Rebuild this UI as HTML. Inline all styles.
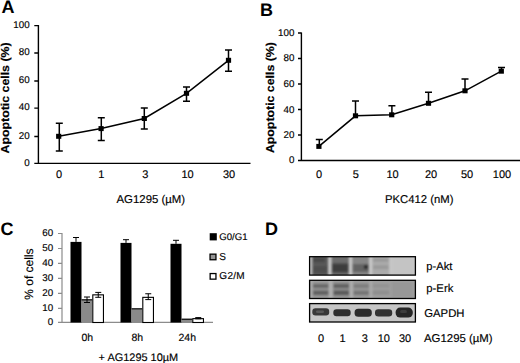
<!DOCTYPE html>
<html><head><meta charset="utf-8">
<style>
html,body{margin:0;padding:0;background:#fff;}
body{width:520px;height:363px;overflow:hidden;}
svg{display:block;}
text{text-rendering:geometricPrecision;font-family:"Liberation Sans",sans-serif;fill:#000;stroke:#000;stroke-width:0.15px;}
.pl{font-weight:bold;font-size:18px;fill:#000;stroke:none;}
.yt{font-size:9.8px;text-anchor:end;}
.xt{font-size:11px;text-anchor:middle;}
.ttl{font-weight:bold;font-size:11.5px;}
</style></head>
<body>
<svg width="520" height="363" viewBox="0 0 520 363">
<!-- ============ PANEL A ============ -->
<text class="pl" x="1.5" y="12.5">A</text>
<g stroke="#000" stroke-width="1.4" fill="none">
  <path d="M38.4 25V163.4M34.3 163.4H250.5"/>
  <path d="M34.3 25.6H38.4M34.3 53H38.4M34.3 81H38.4M34.3 108.1H38.4M34.3 136.5H38.4"/>
</g>
<g class="yt">
  <text class="yt" x="29.6" y="27.8">100</text>
  <text class="yt" x="29.6" y="55.2">80</text>
  <text class="yt" x="29.6" y="83.1">60</text>
  <text class="yt" x="29.6" y="110.4">40</text>
  <text class="yt" x="29.6" y="138.6">20</text>
  <text class="yt" x="29.6" y="166">0</text>
</g>
<text class="ttl" transform="translate(9.4,153.4) rotate(-90) scale(1.072,1)">Apoptotic cells (%)</text>
<g stroke="#000" stroke-width="1.5" fill="none">
  <path d="M58.7 136.3L101.1 128.6L144.3 118.5L186.5 93.3L228.5 60.3"/>
  <path d="M59.3 123.15V151.05M55.8 123.15H62.8M55.8 151.05H62.8"/>
  <path d="M101.3 117.8V140.4M97.8 117.8H104.8M97.8 140.4H104.8"/>
  <path d="M144.3 108V129M140.8 108H147.8M140.8 129H147.8"/>
  <path d="M186.5 87V101.2M183.0 87H190.0M183.0 101.2H190.0"/>
  <path d="M228.5 50V71.2M225.0 50H232.0M225.0 71.2H232.0"/>
</g>
<g fill="#000">
  <rect x="56.1" y="133.8" width="5.2" height="5"/>
  <rect x="98.5" y="126.1" width="5.2" height="5"/>
  <rect x="141.7" y="116.0" width="5.2" height="5"/>
  <rect x="183.9" y="90.8" width="5.2" height="5"/>
  <rect x="225.9" y="57.8" width="5.2" height="5"/>
</g>
<g class="xt">
  <text class="xt" x="59" y="177.8">0</text>
  <text class="xt" x="101.2" y="177.8">1</text>
  <text class="xt" x="145.2" y="177.8">3</text>
  <text class="xt" x="187.5" y="177.8">10</text>
  <text class="xt" x="229" y="177.8">30</text>
</g>
<text x="116.5" y="203.1" style="font-size:11.4px">AG1295 (µM)</text>

<!-- ============ PANEL B ============ -->
<text class="pl" x="260" y="16">B</text>
<g stroke="#000" stroke-width="1.4" fill="none">
  <path d="M301.4 32.4V160.5M298 160.5H520"/>
  <path d="M298 33H301.4M298 58.5H301.4M298 84H301.4M298 109.5H301.4M298 135H301.4"/>
</g>
<g>
  <text class="yt" x="294.4" y="35.8">100</text>
  <text class="yt" x="294.4" y="61.4">80</text>
  <text class="yt" x="294.4" y="86.9">60</text>
  <text class="yt" x="294.4" y="112.6">40</text>
  <text class="yt" x="294.4" y="137.6">20</text>
  <text class="yt" x="294.4" y="163.4">0</text>
</g>
<text class="ttl" transform="translate(274.0,153.1) rotate(-90) scale(1.072,1)">Apoptotic cells (%)</text>
<g stroke="#000" stroke-width="1.5" fill="none">
  <path d="M318.9 146.4L355.5 115.8L391.7 114.8L428.5 103.3L465 90.8L501.3 71.2"/>
  <path d="M319.3 146.4V139.5M315.8 139.5H322.8"/>
  <path d="M355.5 115.8V101M352.0 101H359.0"/>
  <path d="M391.9 114.8V105.7M388.4 105.7H395.4"/>
  <path d="M428.5 103.3V92.3M425.0 92.3H432.0"/>
  <path d="M465 90.8V79M461.5 79H468.5"/>
  <path d="M501.5 71.2V67.5M498.0 67.5H505.0"/>
</g>
<g fill="#000">
  <rect x="316.3" y="143.9" width="5.2" height="5"/>
  <rect x="352.9" y="113.3" width="5.2" height="5"/>
  <rect x="389.1" y="112.3" width="5.2" height="5"/>
  <rect x="425.9" y="100.8" width="5.2" height="5"/>
  <rect x="462.4" y="88.3" width="5.2" height="5"/>
  <rect x="498.7" y="68.7" width="5.2" height="5"/>
</g>
<g>
  <text class="xt" x="319" y="177.6">0</text>
  <text class="xt" x="355.8" y="177.6">5</text>
  <text class="xt" x="392.5" y="177.6">10</text>
  <text class="xt" x="431" y="177.6">20</text>
  <text class="xt" x="467" y="177.6">50</text>
  <text class="xt" x="502" y="177.6">100</text>
</g>
<text x="385" y="203.1" style="font-size:11.3px">PKC412 (nM)</text>

<!-- ============ PANEL C ============ -->
<text class="pl" x="0.5" y="235">C</text>
<g stroke="#8c8c8c" stroke-width="1.2" fill="none">
  <path d="M62 233V322.4M58 322.4H213"/>
  <path d="M58 233.5H62M58 248.5H62M58 263.4H62M58 278.4H62M58 293.4H62M58 308.3H62"/>
</g>
<g>
  <text class="yt" x="53.2" y="236">60</text>
  <text class="yt" x="53.2" y="251">50</text>
  <text class="yt" x="53.2" y="265.8">40</text>
  <text class="yt" x="53.2" y="280.8">30</text>
  <text class="yt" x="53.2" y="295.8">20</text>
  <text class="yt" x="53.2" y="310.8">10</text>
  <text class="yt" x="53.2" y="325">0</text>
</g>
<text transform="translate(32.9,299.8) rotate(-90)" style="font-size:12px">% of cells</text>
<!-- bars -->
<g>
  <rect x="70.5" y="241.9" width="11" height="80.6" fill="#000"/>
  <rect x="81.5" y="299.3" width="10.8" height="23.2" fill="#8a8a8a"/>
  <rect x="81.5" y="299.3" width="10.8" height="1.1" fill="#000"/>
  <rect x="92.8" y="294.85" width="10.65" height="27.65" fill="#fff" stroke="#000" stroke-width="1.1"/>
  <rect x="120.5" y="242.9" width="11" height="79.6" fill="#000"/>
  <rect x="131.5" y="308.3" width="10.8" height="14.2" fill="#8a8a8a"/>
  <rect x="131.5" y="308.3" width="10.8" height="1.1" fill="#000"/>
  <rect x="142.8" y="297.35" width="10.65" height="25.15" fill="#fff" stroke="#000" stroke-width="1.1"/>
  <rect x="170.5" y="243.8" width="11" height="78.7" fill="#000"/>
  <rect x="181.5" y="318.7" width="10.8" height="3.8" fill="#8a8a8a"/>
  <rect x="181.5" y="318.7" width="10.8" height="1.1" fill="#000"/>
  <rect x="192.8" y="318.65" width="10.65" height="3.85" fill="#fff" stroke="#000" stroke-width="1.1"/>
</g>
<g stroke="#000" stroke-width="1" fill="none">
  <path d="M76.0 241.9V237.5M73.0 237.5H79.0"/>
  <path d="M87.0 297V302.5M84.0 297H90.0M84.0 302.5H90.0"/>
  <path d="M98.25 292.4V297.3M95.25 292.4H101.25M95.25 297.3H101.25"/>
  <path d="M126.0 242.9V239.7M123.0 239.7H129.0"/>
  <path d="M148.25 293.75V299.6M145.25 293.75H151.25M145.25 299.6H151.25"/>
  <path d="M176.0 243.8V240.3M173.0 240.3H179.0"/>
  <path d="M198.25 317.6V318.8M195.25 317.6H201.25M195.25 318.8H201.25"/>
</g>
<!-- legend -->
<rect x="209.7" y="233.2" width="7.1" height="7.2" fill="#000"/>
<rect x="210.05" y="254.15" width="5.9" height="5.6" fill="#959595" stroke="#000" stroke-width="1.3"/>
<rect x="210.15" y="273.55" width="5.8" height="5.6" fill="#fff" stroke="#000" stroke-width="1.3"/>
<text x="219.3" y="239.5" style="font-size:9.6px">G0/G1</text>
<text x="219.3" y="259.5" style="font-size:10px">S</text>
<text x="219.3" y="279.2" style="font-size:10px;letter-spacing:0.3px">G2/M</text>
<g>
  <text x="87.3" y="341" style="font-size:10.5px;text-anchor:middle">0h</text>
  <text x="137.3" y="341" style="font-size:10.5px;text-anchor:middle">8h</text>
  <text x="187.3" y="341" style="font-size:10.5px;text-anchor:middle">24h</text>
</g>
<text x="98.6" y="360.7" style="font-size:10.95px">+ AG1295 10µM</text>

<!-- ============ PANEL D ============ -->
<text class="pl" x="265" y="235">D</text>
<defs>
  <filter id="bl" x="-20%" y="-50%" width="140%" height="200%"><feGaussianBlur stdDeviation="0.9"/></filter>
  <clipPath id="c1"><rect x="309.6" y="256.7" width="105.8" height="18.4"/></clipPath>
  <clipPath id="c2"><rect x="309.6" y="280.3" width="105.8" height="18.2"/></clipPath>
  <clipPath id="c3"><rect x="309.6" y="303.6" width="105.8" height="18.4"/></clipPath>
  <filter id="bl2" x="-20%" y="-50%" width="140%" height="200%"><feGaussianBlur stdDeviation="0.7"/></filter>
</defs>
<!-- p-Akt -->
<rect x="309.6" y="256.7" width="105.8" height="18.4" fill="#c8c8c8"/>
<g clip-path="url(#c1)"><g filter="url(#bl)">
  <rect x="310.5" y="256.5" width="2.2" height="19" fill="#b0b0b0"/>
  <rect x="312.3" y="256" width="15.8" height="20" fill="#5a5a5a"/>
  <rect x="313" y="257.5" width="12" height="5" fill="#4a4a4a"/>
  <rect x="313" y="266" width="14" height="7" fill="#4e4e4e"/>
  <rect x="331.6" y="256" width="17.2" height="20" fill="#6c6c6c"/>
  <rect x="332.2" y="263.5" width="16" height="9" fill="#3e3e3e"/>
  <rect x="352.3" y="256" width="16.6" height="20" fill="#858585"/>
  <rect x="352.8" y="264" width="15.6" height="8" fill="#646464"/>
  <circle cx="366" cy="267" r="2.2" fill="#262626"/>
  <rect x="372.3" y="256" width="17" height="20" fill="#ababab"/>
  <rect x="373" y="258.5" width="15.5" height="3.2" fill="#999"/>
  <rect x="373" y="265.3" width="15.5" height="3.8" fill="#9a9a9a"/>
  <rect x="391.8" y="256" width="21.7" height="20" fill="#c4c4c4"/>
</g></g>
<rect x="309.6" y="256.7" width="105.8" height="18.4" fill="none" stroke="#000" stroke-width="1.3"/>
<!-- p-Erk -->
<rect x="309.6" y="280.3" width="105.8" height="18.2" fill="#9e9e9e"/>
<g clip-path="url(#c2)"><g filter="url(#bl)">
  <rect x="310.5" y="280" width="2.2" height="19" fill="#b0b0b0"/>
  <rect x="312.5" y="282" width="16.5" height="15" fill="#949494"/>
  <rect x="333" y="282" width="16.5" height="15" fill="#8e8e8e"/>
  <rect x="353" y="282" width="16.2" height="15" fill="#979797"/>
  <rect x="328.8" y="280" width="3.8" height="19" fill="#b0b0b0"/>
  <rect x="349.8" y="280" width="3.2" height="19" fill="#aeaeae"/>
  <rect x="369.5" y="280" width="3" height="19" fill="#aaaaaa"/>
  <rect x="313" y="284" width="15.5" height="4" fill="#686868"/>
  <rect x="313" y="290.6" width="15.5" height="4.4" fill="#606060"/>
  <rect x="333.5" y="284" width="15.5" height="4" fill="#606060"/>
  <rect x="333.5" y="290.6" width="15.5" height="4.4" fill="#585858"/>
  <rect x="353.5" y="284.2" width="15.4" height="3.6" fill="#7c7c7c"/>
  <rect x="353.5" y="290.8" width="15.4" height="4" fill="#727272"/>
  <rect x="372.5" y="284" width="16.8" height="3.6" fill="#939393"/>
  <rect x="372.5" y="290.5" width="16.8" height="4.2" fill="#8e8e8e"/>
  <rect x="392" y="282" width="20.5" height="15" fill="#979797"/>
</g></g>
<rect x="309.6" y="280.3" width="105.8" height="18.2" fill="none" stroke="#000" stroke-width="1.3"/>
<!-- GAPDH -->
<rect x="309.6" y="303.6" width="105.8" height="18.4" fill="#c6c6c6"/>
<g clip-path="url(#c3)"><g filter="url(#bl2)">
  <rect x="312.3" y="308.3" width="16.9" height="7.2" rx="3.2" fill="#383838"/>
  <rect x="316" y="310.6" width="8" height="2.4" rx="1.2" fill="#585858"/>
  <rect x="333.3" y="309.3" width="17.4" height="7" rx="3.2" fill="#2e2e2e"/>
  <rect x="354.6" y="308.8" width="17.2" height="8" rx="3.6" fill="#2a2a2a"/>
  <rect x="375" y="309.3" width="17.2" height="7.2" rx="3.3" fill="#303030"/>
  <rect x="395.6" y="307.6" width="17.2" height="10" rx="4.5" fill="#262626"/>
  <rect x="400" y="310" width="7" height="3" rx="1.5" fill="#3c3c3c"/>
</g></g>
<rect x="309.6" y="303.6" width="105.8" height="18.4" fill="none" stroke="#000" stroke-width="1.3"/>
<text x="426.3" y="269.5" style="font-size:11.2px">p-Akt</text>
<text x="426.3" y="292" style="font-size:11.3px">p-Erk</text>
<text x="424.3" y="316.7" style="font-size:11.3px">GAPDH</text>
<g style="font-size:11px;text-anchor:middle">
  <text class="xt" x="321" y="342">0</text>
  <text class="xt" x="342.5" y="342">1</text>
  <text class="xt" x="364.8" y="342">3</text>
  <text class="xt" x="383.8" y="342">10</text>
  <text class="xt" x="405" y="342">30</text>
</g>
<text x="424" y="342" style="font-size:11.4px">AG1295 (µM)</text>
</svg>
</body></html>
